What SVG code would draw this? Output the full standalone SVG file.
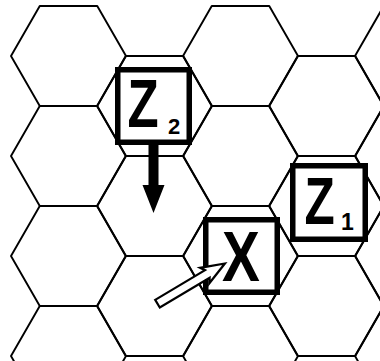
<svg xmlns="http://www.w3.org/2000/svg" xmlns:xlink="http://www.w3.org/1999/xlink" width="380" height="361" viewBox="0 0 380 361">
<style>
.hex{fill:none;stroke:#000;stroke-width:1.9;stroke-linejoin:round}
.box{fill:#fff;stroke:#000;stroke-width:5.5}
.lbl{font-family:"Liberation Sans",Arial,sans-serif;font-weight:bold;fill:#000}
</style>
<defs>
<polygon id="hx" class="hex" points="-57.5,0 -28.75,-50 28.75,-50 57.5,0 28.75,50 -28.75,50"/>
</defs>
<rect x="0" y="0" width="380" height="361" fill="#fff"/>
<g id="hex-grid">
<use xlink:href="#hx" x="68.5" y="56"/>
<use xlink:href="#hx" x="68.5" y="156"/>
<use xlink:href="#hx" x="68.5" y="256"/>
<use xlink:href="#hx" x="68.5" y="356"/>
<use xlink:href="#hx" x="154.5" y="106"/>
<use xlink:href="#hx" x="154.5" y="206"/>
<use xlink:href="#hx" x="154.5" y="306"/>
<use xlink:href="#hx" x="240.5" y="56"/>
<use xlink:href="#hx" x="240.5" y="156"/>
<use xlink:href="#hx" x="240.5" y="256"/>
<use xlink:href="#hx" x="240.5" y="356"/>
<use xlink:href="#hx" x="326.5" y="106"/>
<use xlink:href="#hx" x="326.5" y="206"/>
<use xlink:href="#hx" x="326.5" y="306"/>
<use xlink:href="#hx" x="412.5" y="56"/>
<use xlink:href="#hx" x="412.5" y="156"/>
<use xlink:href="#hx" x="412.5" y="256"/>
<use xlink:href="#hx" x="412.5" y="356"/>
</g>
<g id="node-z2">
<rect class="box" x="117.75" y="69.75" width="71.5" height="72.5"/>
<text class="lbl" transform="translate(127.5,127) scale(0.75,1)" font-size="68">Z</text>
<text class="lbl" x="168" y="134" font-size="22">2</text>
</g>
<g id="node-z1">
<rect class="box" x="292.75" y="165.75" width="72.5" height="73.5"/>
<text class="lbl" transform="translate(304.5,224) scale(0.75,1)" font-size="66">Z</text>
<text class="lbl" x="341" y="230" font-size="23">1</text>
</g>
<g id="node-x">
<rect class="box" x="205.75" y="219.75" width="71.5" height="72.5"/>
<text class="lbl" transform="translate(222,281) scale(0.81,1)" font-size="70">X</text>
</g>
<g id="connectors">
<polygon points="148.5,144 158.5,144 158.5,185 164.5,185 153.5,213 142.5,185 148.5,185" fill="#000"/>
<polygon transform="translate(157.5,303.7) rotate(-30.8)" points="0,-4.5 58,-4.5 55,-9 78.5,0 55,9 58,4.5 0,4.5" fill="#fff" stroke="#000" stroke-width="2.2" stroke-linejoin="miter"/>
</g>
</svg>
